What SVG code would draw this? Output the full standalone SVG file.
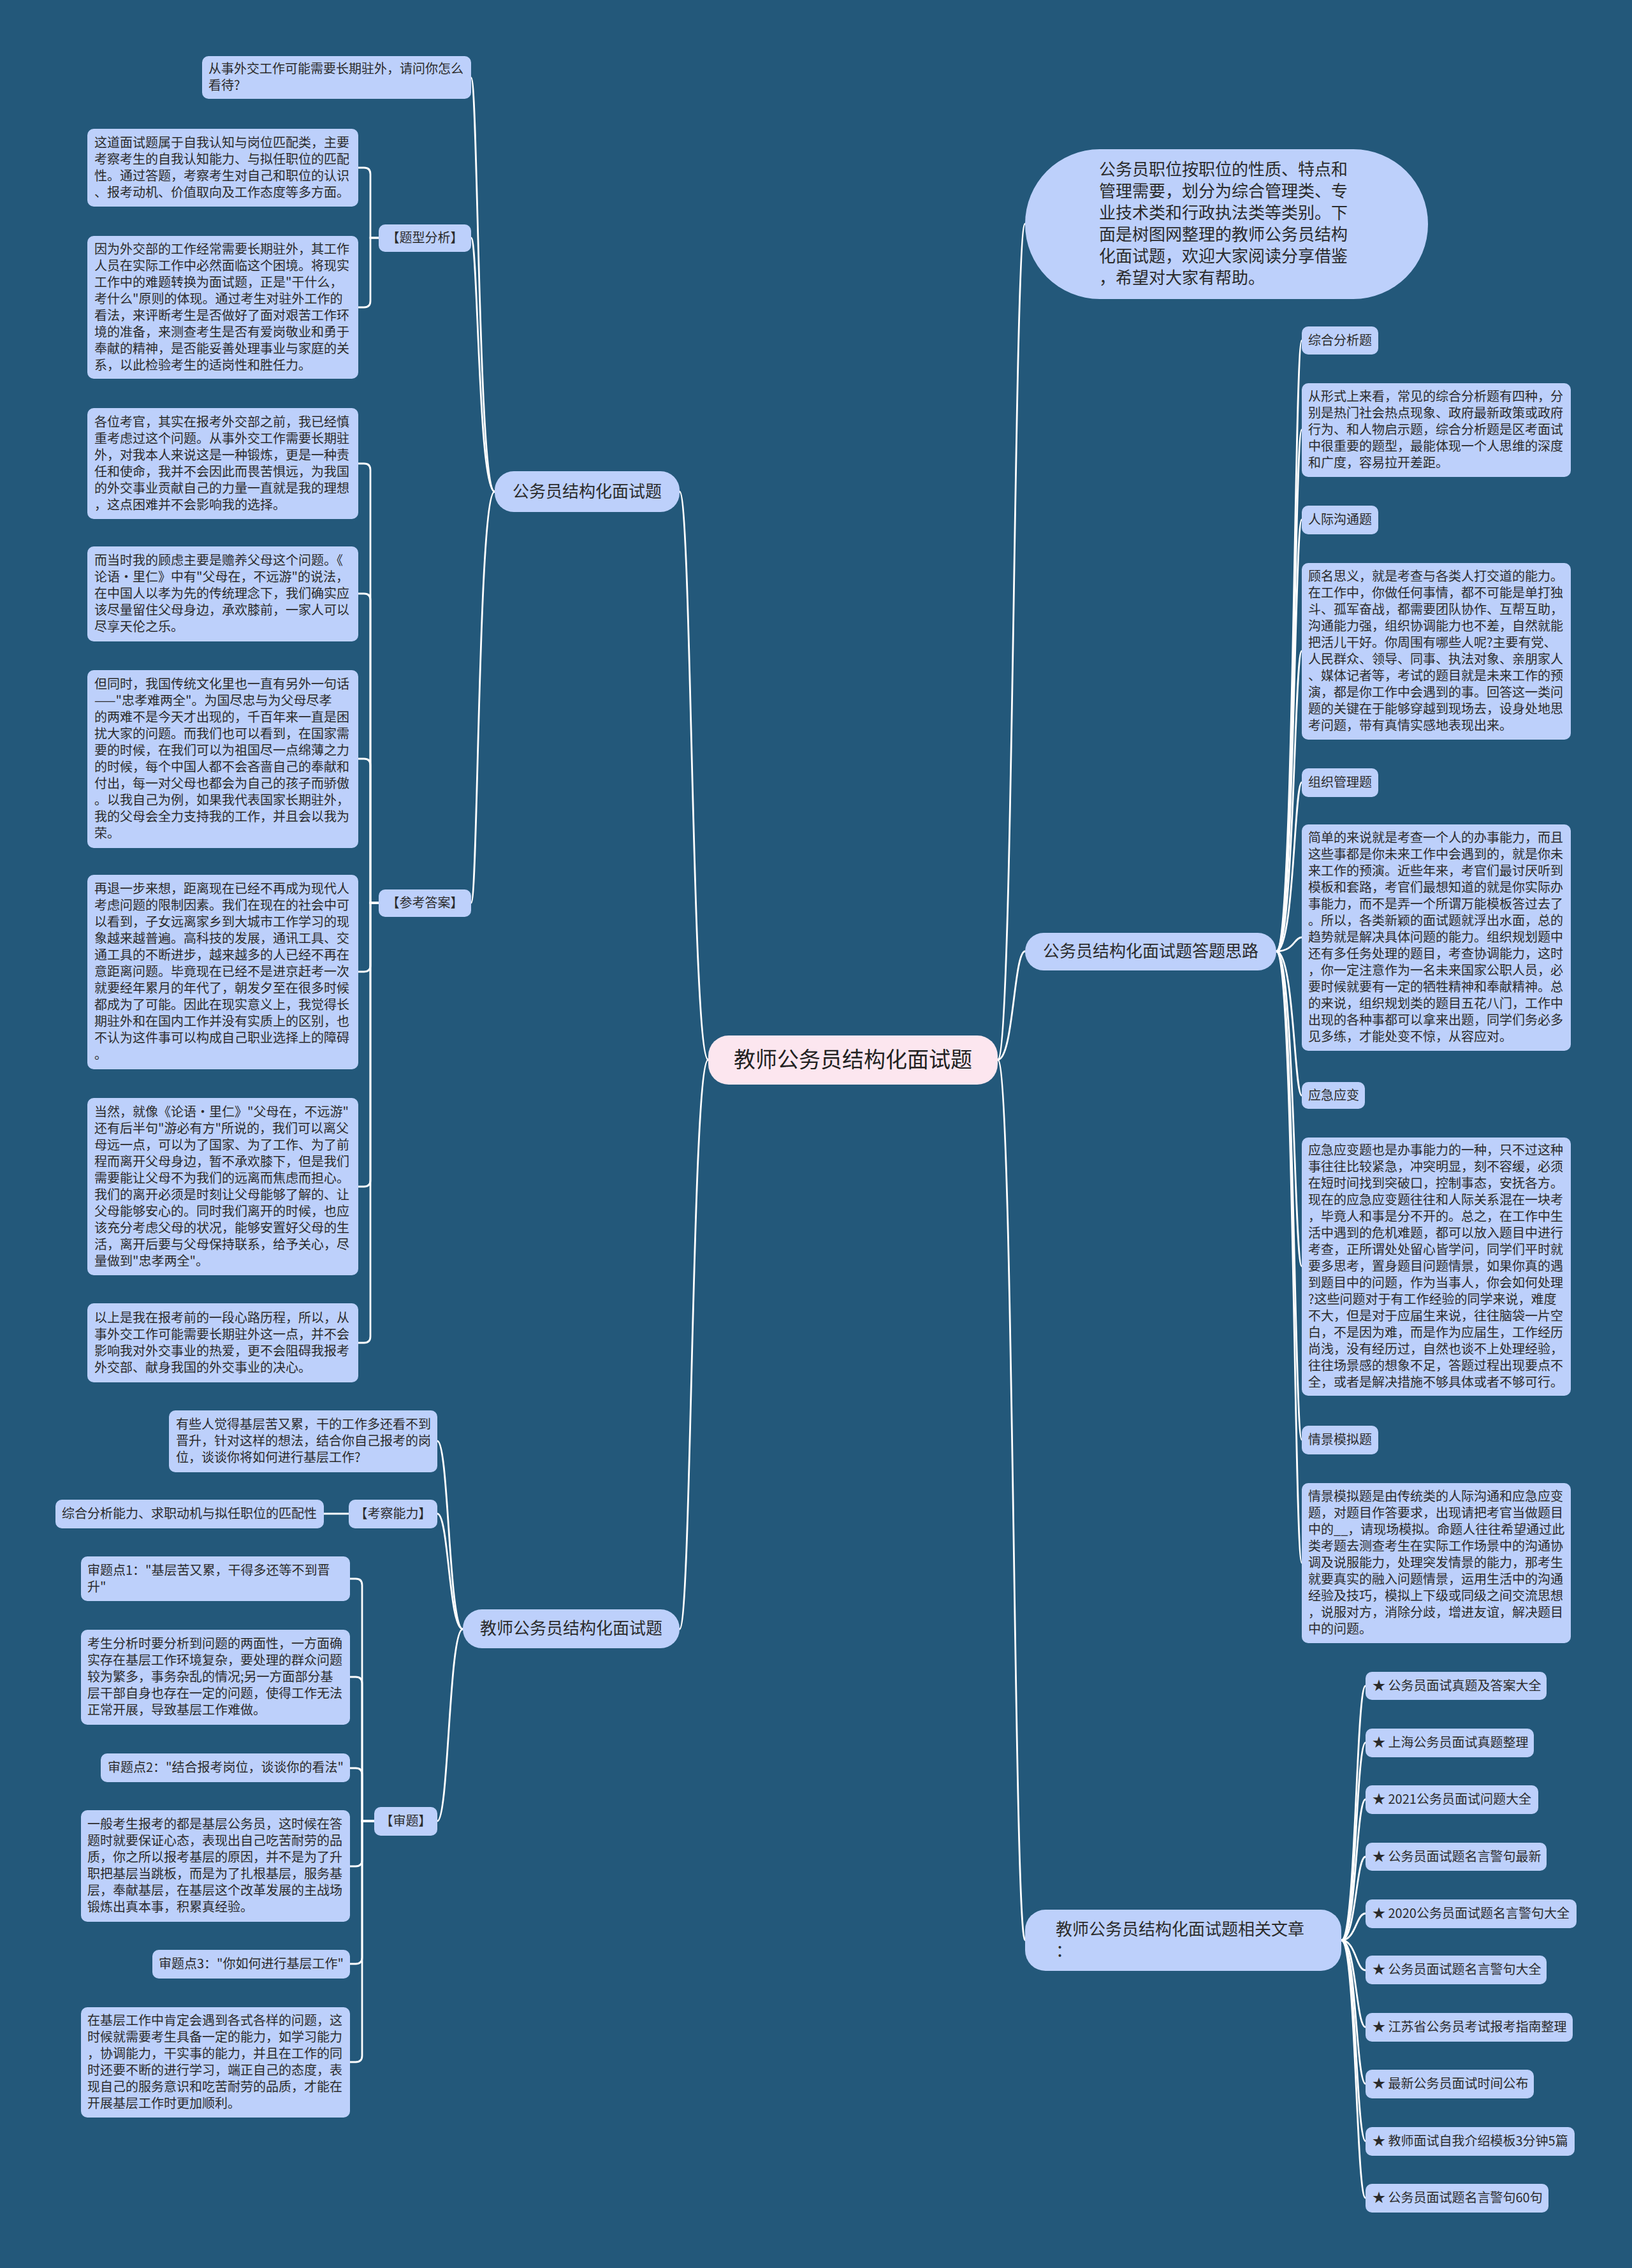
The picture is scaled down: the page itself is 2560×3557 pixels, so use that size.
<svg xmlns="http://www.w3.org/2000/svg" width="2560" height="3557" viewBox="0 0 2560 3557">
<style>
.bg{fill:#23587a}
.box{fill:#bdd0fb}
.l1{fill:#bdd0fb}
.root{fill:#fce6ef}
.t{font-family:"Noto Sans CJK SC","Liberation Sans",sans-serif;font-size:20px;fill:#2b2b2b}
.t1{font-family:"Noto Sans CJK SC","Liberation Sans",sans-serif;font-size:26px;fill:#2b2b2b}
.t0{font-family:"Noto Sans CJK SC","Liberation Sans",sans-serif;font-size:34px;fill:#222}
.c{fill:none;stroke:#ffffff;stroke-width:2.8;stroke-linecap:round}
</style>
<rect class="bg" x="0" y="0" width="2560" height="3557"/>

<g id="connectors">
<path class="c" d="M 1111 1662 C 1085 1662, 1085 771, 1066 771"/>
<path class="c" d="M 1111 1662 C 1085 1662, 1085 2555, 1066 2555"/>
<path class="c" d="M 1565 1662 C 1590 1662, 1590 351, 1608 351"/>
<path class="c" d="M 1565 1662 C 1590 1662, 1590 1492, 1608 1492"/>
<path class="c" d="M 1565 1662 C 1590 1662, 1590 3043, 1608 3043"/>

<path class="c" d="M 776 771 C 750 771, 750 122, 739 122"/>
<path class="c" d="M 776 771 C 750 771, 750 373, 739 373"/>
<path class="c" d="M 776 771 C 750 771, 750 1416, 739 1416"/>

<path class="c" d="M 594 373 H 581 V 273 Q 581 263 571 263 H 562"/>
<path class="c" d="M 594 373 H 581 V 472 Q 581 482 571 482 H 562"/>

<path class="c" d="M 594 1416 H 581 V 737 Q 581 727 571 727 H 562"/>
<path class="c" d="M 594 1416 H 581 V 941 Q 581 931 571 931 H 562"/>
<path class="c" d="M 594 1416 H 581 V 1200 Q 581 1190 571 1190 H 562"/>
<path class="c" d="M 594 1416 H 581 V 1514 Q 581 1524 571 1524 H 562"/>
<path class="c" d="M 594 1416 H 581 V 1851 Q 581 1861 571 1861 H 562"/>
<path class="c" d="M 594 1416 H 581 V 2096 Q 581 2106 571 2106 H 562"/>

<path class="c" d="M 726 2555 C 704 2555, 704 2260, 686 2260"/>
<path class="c" d="M 726 2555 C 704 2555, 704 2374, 686 2374"/>
<path class="c" d="M 726 2555 C 704 2555, 704 2856, 686 2856"/>

<path class="c" d="M 547 2374 H 508"/>

<path class="c" d="M 587 2856 H 568 V 2486 Q 568 2476 558 2476 H 549"/>
<path class="c" d="M 587 2856 H 568 V 2640 Q 568 2630 558 2630 H 549"/>
<path class="c" d="M 587 2856 H 568 V 2783 Q 568 2773 558 2773 H 549"/>
<path class="c" d="M 587 2856 H 568 V 2917 Q 568 2927 558 2927 H 549"/>
<path class="c" d="M 587 2856 H 568 V 3070 Q 568 3080 558 3080 H 549"/>
<path class="c" d="M 587 2856 H 568 V 3224 Q 568 3234 558 3234 H 549"/>

<path class="c" d="M 2002 1492 C 2030 1492, 2030 534, 2042 534"/>
<path class="c" d="M 2002 1492 C 2030 1492, 2030 674, 2042 674"/>
<path class="c" d="M 2002 1492 C 2030 1492, 2030 815, 2042 815"/>
<path class="c" d="M 2002 1492 C 2030 1492, 2030 1021, 2042 1021"/>
<path class="c" d="M 2002 1492 C 2030 1492, 2030 1227, 2042 1227"/>
<path class="c" d="M 2002 1492 C 2030 1492, 2030 1470, 2042 1470"/>
<path class="c" d="M 2002 1492 C 2030 1492, 2030 1718, 2042 1718"/>
<path class="c" d="M 2002 1492 C 2030 1492, 2030 1986, 2042 1986"/>
<path class="c" d="M 2002 1492 C 2030 1492, 2030 2258, 2042 2258"/>
<path class="c" d="M 2002 1492 C 2030 1492, 2030 2451, 2042 2451"/>

<path class="c" d="M 2104 3043 C 2127 3043, 2127 2644, 2142 2644"/>
<path class="c" d="M 2104 3043 C 2127 3043, 2127 2733, 2142 2733"/>
<path class="c" d="M 2104 3043 C 2127 3043, 2127 2822, 2142 2822"/>
<path class="c" d="M 2104 3043 C 2127 3043, 2127 2912, 2142 2912"/>
<path class="c" d="M 2104 3043 C 2127 3043, 2127 3001, 2142 3001"/>
<path class="c" d="M 2104 3043 C 2127 3043, 2127 3090, 2142 3090"/>
<path class="c" d="M 2104 3043 C 2127 3043, 2127 3179, 2142 3179"/>
<path class="c" d="M 2104 3043 C 2127 3043, 2127 3268, 2142 3268"/>
<path class="c" d="M 2104 3043 C 2127 3043, 2127 3358, 2142 3358"/>
<path class="c" d="M 2104 3043 C 2127 3043, 2127 3447, 2142 3447"/>
</g>

<g id="root">
<rect class="root" x="1111" y="1624" width="454" height="77" rx="32"/>
<text class="t0" x="1338" y="1674" text-anchor="middle">教师公务员结构化面试题</text>
</g>

<g id="intro">
<rect class="l1" x="1608" y="234" width="632" height="235" rx="117"/>
<text class="t1" x="1724" y="275">
<tspan x="1724" dy="0">公务员职位按职位的性质、特点和</tspan>
<tspan x="1724" dy="34">管理需要，划分为综合管理类、专</tspan>
<tspan x="1724" dy="34">业技术类和行政执法类等类别。下</tspan>
<tspan x="1724" dy="34">面是树图网整理的教师公务员结构</tspan>
<tspan x="1724" dy="34">化面试题，欢迎大家阅读分享借鉴</tspan>
<tspan x="1724" dy="34">，希望对大家有帮助。</tspan>
</text>
</g>

<g id="n-gwy">
<rect class="l1" x="776" y="739" width="290" height="64" rx="30"/>
<text class="t1" x="921" y="780" text-anchor="middle">公务员结构化面试题</text>
</g>

<g id="n-js">
<rect class="l1" x="726" y="2524" width="340" height="61" rx="30"/>
<text class="t1" x="896" y="2563" text-anchor="middle">教师公务员结构化面试题</text>
</g>

<g id="n-dtsl">
<rect class="l1" x="1608" y="1463" width="394" height="59" rx="29"/>
<text class="t1" x="1805" y="1501" text-anchor="middle">公务员结构化面试题答题思路</text>
</g>

<g id="n-xgwz">
<rect class="l1" x="1608" y="2995" width="496" height="96" rx="32"/>
<text class="t1" x="1656" y="3035">
<tspan x="1656" dy="0">教师公务员结构化面试题相关文章</tspan>
<tspan x="1656" dy="34">：</tspan>
</text>
</g>

<g id="q1">
<rect class="box" x="317" y="88" width="422" height="67" rx="10"/>
<text class="t" x="327" y="115">
<tspan x="327" dy="0">从事外交工作可能需要长期驻外，请问你怎么</tspan>
<tspan x="327" dy="26">看待?</tspan>
</text>
</g>

<g id="txfx">
<rect class="box" x="594" y="352" width="145" height="43" rx="10"/>
<text class="t" x="666.5" y="380" text-anchor="middle">【题型分析】</text>
</g>

<g id="txfx-1">
<rect class="box" x="137" y="202" width="425" height="122" rx="10"/>
<text class="t" x="148" y="231">
<tspan x="148" dy="0">这道面试题属于自我认知与岗位匹配类，主要</tspan>
<tspan x="148" dy="26">考察考生的自我认知能力、与拟任职位的匹配</tspan>
<tspan x="148" dy="26">性。通过答题，考察考生对自己和职位的认识</tspan>
<tspan x="148" dy="26">、报考动机、价值取向及工作态度等多方面。</tspan>
</text>
</g>

<g id="txfx-2">
<rect class="box" x="137" y="370" width="425" height="224" rx="10"/>
<text class="t" x="148" y="398">
<tspan x="148" dy="0">因为外交部的工作经常需要长期驻外，其工作</tspan>
<tspan x="148" dy="26">人员在实际工作中必然面临这个困境。将现实</tspan>
<tspan x="148" dy="26">工作中的难题转换为面试题，正是"干什么，</tspan>
<tspan x="148" dy="26">考什么"原则的体现。通过考生对驻外工作的</tspan>
<tspan x="148" dy="26">看法，来评断考生是否做好了面对艰苦工作环</tspan>
<tspan x="148" dy="26">境的准备，来测查考生是否有爱岗敬业和勇于</tspan>
<tspan x="148" dy="26">奉献的精神，是否能妥善处理事业与家庭的关</tspan>
<tspan x="148" dy="26">系，以此检验考生的适岗性和胜任力。</tspan>
</text>
</g>

<g id="ckda">
<rect class="box" x="594" y="1395" width="145" height="43" rx="10"/>
<text class="t" x="666.5" y="1423" text-anchor="middle">【参考答案】</text>
</g>

<g id="ckda-1">
<rect class="box" x="137" y="640" width="425" height="174" rx="10"/>
<text class="t" x="148" y="669">
<tspan x="148" dy="0">各位考官，其实在报考外交部之前，我已经慎</tspan>
<tspan x="148" dy="26">重考虑过这个问题。从事外交工作需要长期驻</tspan>
<tspan x="148" dy="26">外，对我本人来说这是一种锻炼，更是一种责</tspan>
<tspan x="148" dy="26">任和使命，我并不会因此而畏苦惧远，为我国</tspan>
<tspan x="148" dy="26">的外交事业贡献自己的力量一直就是我的理想</tspan>
<tspan x="148" dy="26">，这点困难并不会影响我的选择。</tspan>
</text>
</g>

<g id="ckda-2">
<rect class="box" x="137" y="857" width="425" height="149" rx="10"/>
<text class="t" x="148" y="886">
<tspan x="148" dy="0">而当时我的顾虑主要是赡养父母这个问题。《</tspan>
<tspan x="148" dy="26">论语·里仁》中有"父母在，不远游"的说法，</tspan>
<tspan x="148" dy="26">在中国人以孝为先的传统理念下，我们确实应</tspan>
<tspan x="148" dy="26">该尽量留住父母身边，承欢膝前，一家人可以</tspan>
<tspan x="148" dy="26">尽享天伦之乐。</tspan>
</text>
</g>

<g id="ckda-3">
<rect class="box" x="137" y="1051" width="425" height="279" rx="10"/>
<text class="t" x="148" y="1080">
<tspan x="148" dy="0">但同时，我国传统文化里也一直有另外一句话</tspan>
<tspan x="148" dy="26">——"忠孝难两全"。为国尽忠与为父母尽孝</tspan>
<tspan x="148" dy="26">的两难不是今天才出现的，千百年来一直是困</tspan>
<tspan x="148" dy="26">扰大家的问题。而我们也可以看到，在国家需</tspan>
<tspan x="148" dy="26">要的时候，在我们可以为祖国尽一点绵薄之力</tspan>
<tspan x="148" dy="26">的时候，每个中国人都不会吝啬自己的奉献和</tspan>
<tspan x="148" dy="26">付出，每一对父母也都会为自己的孩子而骄傲</tspan>
<tspan x="148" dy="26">。以我自己为例，如果我代表国家长期驻外，</tspan>
<tspan x="148" dy="26">我的父母会全力支持我的工作，并且会以我为</tspan>
<tspan x="148" dy="26">荣。</tspan>
</text>
</g>

<g id="ckda-4">
<rect class="box" x="137" y="1372" width="425" height="305" rx="10"/>
<text class="t" x="148" y="1401">
<tspan x="148" dy="0">再退一步来想，距离现在已经不再成为现代人</tspan>
<tspan x="148" dy="26">考虑问题的限制因素。我们在现在的社会中可</tspan>
<tspan x="148" dy="26">以看到，子女远离家乡到大城市工作学习的现</tspan>
<tspan x="148" dy="26">象越来越普遍。高科技的发展，通讯工具、交</tspan>
<tspan x="148" dy="26">通工具的不断进步，越来越多的人已经不再在</tspan>
<tspan x="148" dy="26">意距离问题。毕竟现在已经不是进京赶考一次</tspan>
<tspan x="148" dy="26">就要经年累月的年代了，朝发夕至在很多时候</tspan>
<tspan x="148" dy="26">都成为了可能。因此在现实意义上，我觉得长</tspan>
<tspan x="148" dy="26">期驻外和在国内工作并没有实质上的区别，也</tspan>
<tspan x="148" dy="26">不认为这件事可以构成自己职业选择上的障碍</tspan>
<tspan x="148" dy="26">。</tspan>
</text>
</g>

<g id="ckda-5">
<rect class="box" x="137" y="1722" width="425" height="278" rx="10"/>
<text class="t" x="148" y="1751">
<tspan x="148" dy="0">当然，就像《论语·里仁》"父母在，不远游"</tspan>
<tspan x="148" dy="26">还有后半句"游必有方"所说的，我们可以离父</tspan>
<tspan x="148" dy="26">母远一点，可以为了国家、为了工作、为了前</tspan>
<tspan x="148" dy="26">程而离开父母身边，暂不承欢膝下，但是我们</tspan>
<tspan x="148" dy="26">需要能让父母不为我们的远离而焦虑而担心。</tspan>
<tspan x="148" dy="26">我们的离开必须是时刻让父母能够了解的、让</tspan>
<tspan x="148" dy="26">父母能够安心的。同时我们离开的时候，也应</tspan>
<tspan x="148" dy="26">该充分考虑父母的状况，能够安置好父母的生</tspan>
<tspan x="148" dy="26">活，离开后要与父母保持联系，给予关心，尽</tspan>
<tspan x="148" dy="26">量做到"忠孝两全"。</tspan>
</text>
</g>

<g id="ckda-6">
<rect class="box" x="137" y="2044" width="425" height="124" rx="10"/>
<text class="t" x="148" y="2074">
<tspan x="148" dy="0">以上是我在报考前的一段心路历程，所以，从</tspan>
<tspan x="148" dy="26">事外交工作可能需要长期驻外这一点，并不会</tspan>
<tspan x="148" dy="26">影响我对外交事业的热爱，更不会阻碍我报考</tspan>
<tspan x="148" dy="26">外交部、献身我国的外交事业的决心。</tspan>
</text>
</g>

<g id="q2">
<rect class="box" x="265" y="2212" width="421" height="97" rx="10"/>
<text class="t" x="276" y="2241">
<tspan x="276" dy="0">有些人觉得基层苦又累，干的工作多还看不到</tspan>
<tspan x="276" dy="26">晋升，针对这样的想法，结合你自己报考的岗</tspan>
<tspan x="276" dy="26">位，谈谈你将如何进行基层工作?</tspan>
</text>
</g>

<g id="kcnl">
<rect class="box" x="547" y="2352" width="139" height="45" rx="10"/>
<text class="t" x="616.5" y="2381" text-anchor="middle">【考察能力】</text>
</g>

<g id="kcnl-1">
<rect class="box" x="87" y="2352" width="421" height="45" rx="10"/>
<text class="t" x="97" y="2381">综合分析能力、求职动机与拟任职位的匹配性</text>
</g>

<g id="st">
<rect class="box" x="587" y="2834" width="99" height="45" rx="10"/>
<text class="t" x="636.5" y="2863" text-anchor="middle">【审题】</text>
</g>

<g id="st-1">
<rect class="box" x="127" y="2441" width="422" height="70" rx="10"/>
<text class="t" x="137" y="2470">
<tspan x="137" dy="0">审题点1："基层苦又累，干得多还等不到晋</tspan>
<tspan x="137" dy="26">升"</tspan>
</text>
</g>

<g id="st-2">
<rect class="box" x="127" y="2556" width="422" height="149" rx="10"/>
<text class="t" x="137" y="2585">
<tspan x="137" dy="0">考生分析时要分析到问题的两面性，一方面确</tspan>
<tspan x="137" dy="26">实存在基层工作环境复杂，要处理的群众问题</tspan>
<tspan x="137" dy="26">较为繁多，事务杂乱的情况;另一方面部分基</tspan>
<tspan x="137" dy="26">层干部自身也存在一定的问题，使得工作无法</tspan>
<tspan x="137" dy="26">正常开展，导致基层工作难做。</tspan>
</text>
</g>

<g id="st-3">
<rect class="box" x="158" y="2750" width="391" height="45" rx="10"/>
<text class="t" x="169" y="2779">审题点2："结合报考岗位，谈谈你的看法"</text>
</g>

<g id="st-4">
<rect class="box" x="127" y="2839" width="422" height="175" rx="10"/>
<text class="t" x="137" y="2868">
<tspan x="137" dy="0">一般考生报考的都是基层公务员，这时候在答</tspan>
<tspan x="137" dy="26">题时就要保证心态，表现出自己吃苦耐劳的品</tspan>
<tspan x="137" dy="26">质，你之所以报考基层的原因，并不是为了升</tspan>
<tspan x="137" dy="26">职把基层当跳板，而是为了扎根基层，服务基</tspan>
<tspan x="137" dy="26">层，奉献基层，在基层这个改革发展的主战场</tspan>
<tspan x="137" dy="26">锻炼出真本事，积累真经验。</tspan>
</text>
</g>

<g id="st-5">
<rect class="box" x="239" y="3058" width="310" height="45" rx="10"/>
<text class="t" x="249" y="3087">审题点3："你如何进行基层工作"</text>
</g>

<g id="st-6">
<rect class="box" x="127" y="3148" width="422" height="173" rx="10"/>
<text class="t" x="137" y="3176">
<tspan x="137" dy="0">在基层工作中肯定会遇到各式各样的问题，这</tspan>
<tspan x="137" dy="26">时候就需要考生具备一定的能力，如学习能力</tspan>
<tspan x="137" dy="26">，协调能力，干实事的能力，并且在工作的同</tspan>
<tspan x="137" dy="26">时还要不断的进行学习，端正自己的态度，表</tspan>
<tspan x="137" dy="26">现自己的服务意识和吃苦耐劳的品质，才能在</tspan>
<tspan x="137" dy="26">开展基层工作时更加顺利。</tspan>
</text>
</g>

<g id="zhfx">
<rect class="box" x="2042" y="512" width="120" height="44" rx="10"/>
<text class="t" x="2052" y="541">综合分析题</text>
</g>
<g id="zhfx-1">
<rect class="box" x="2042" y="601" width="422" height="147" rx="10"/>
<text class="t" x="2052" y="629">
<tspan x="2052" dy="0">从形式上来看，常见的综合分析题有四种，分</tspan>
<tspan x="2052" dy="26">别是热门社会热点现象、政府最新政策或政府</tspan>
<tspan x="2052" dy="26">行为、和人物启示题，综合分析题是区考面试</tspan>
<tspan x="2052" dy="26">中很重要的题型，最能体现一个人思维的深度</tspan>
<tspan x="2052" dy="26">和广度，容易拉开差距。</tspan>
</text>
</g>

<g id="rjgt">
<rect class="box" x="2042" y="793" width="120" height="45" rx="10"/>
<text class="t" x="2052" y="822">人际沟通题</text>
</g>
<g id="rjgt-1">
<rect class="box" x="2042" y="883" width="422" height="277" rx="10"/>
<text class="t" x="2052" y="911">
<tspan x="2052" dy="0">顾名思义，就是考查与各类人打交道的能力。</tspan>
<tspan x="2052" dy="26">在工作中，你做任何事情，都不可能是单打独</tspan>
<tspan x="2052" dy="26">斗、孤军奋战，都需要团队协作、互帮互助，</tspan>
<tspan x="2052" dy="26">沟通能力强，组织协调能力也不差，自然就能</tspan>
<tspan x="2052" dy="26">把活儿干好。你周围有哪些人呢?主要有党、</tspan>
<tspan x="2052" dy="26">人民群众、领导、同事、执法对象、亲朋家人</tspan>
<tspan x="2052" dy="26">、媒体记者等，考试的题目就是未来工作的预</tspan>
<tspan x="2052" dy="26">演，都是你工作中会遇到的事。回答这一类问</tspan>
<tspan x="2052" dy="26">题的关键在于能够穿越到现场去，设身处地思</tspan>
<tspan x="2052" dy="26">考问题，带有真情实感地表现出来。</tspan>
</text>
</g>

<g id="zzgl">
<rect class="box" x="2042" y="1205" width="120" height="45" rx="10"/>
<text class="t" x="2052" y="1234">组织管理题</text>
</g>
<g id="zzgl-1">
<rect class="box" x="2042" y="1293" width="422" height="355" rx="10"/>
<text class="t" x="2052" y="1321">
<tspan x="2052" dy="0">简单的来说就是考查一个人的办事能力，而且</tspan>
<tspan x="2052" dy="26">这些事都是你未来工作中会遇到的，就是你未</tspan>
<tspan x="2052" dy="26">来工作的预演。近些年来，考官们最讨厌听到</tspan>
<tspan x="2052" dy="26">模板和套路，考官们最想知道的就是你实际办</tspan>
<tspan x="2052" dy="26">事能力，而不是弄一个所谓万能模板答过去了</tspan>
<tspan x="2052" dy="26">。所以，各类新颖的面试题就浮出水面，总的</tspan>
<tspan x="2052" dy="26">趋势就是解决具体问题的能力。组织规划题中</tspan>
<tspan x="2052" dy="26">还有多任务处理的题目，考查协调能力，这时</tspan>
<tspan x="2052" dy="26">，你一定注意作为一名未来国家公职人员，必</tspan>
<tspan x="2052" dy="26">要时候就要有一定的牺牲精神和奉献精神。总</tspan>
<tspan x="2052" dy="26">的来说，组织规划类的题目五花八门，工作中</tspan>
<tspan x="2052" dy="26">出现的各种事都可以拿来出题，同学们务必多</tspan>
<tspan x="2052" dy="26">见多练，才能处变不惊，从容应对。</tspan>
</text>
</g>

<g id="yjyb">
<rect class="box" x="2042" y="1697" width="99" height="42" rx="10"/>
<text class="t" x="2052" y="1725">应急应变</text>
</g>
<g id="yjyb-1">
<rect class="box" x="2042" y="1784" width="422" height="405" rx="10"/>
<text class="t" x="2052" y="1811">
<tspan x="2052" dy="0">应急应变题也是办事能力的一种，只不过这种</tspan>
<tspan x="2052" dy="26">事往往比较紧急，冲突明显，刻不容缓，必须</tspan>
<tspan x="2052" dy="26">在短时间找到突破口，控制事态，安抚各方。</tspan>
<tspan x="2052" dy="26">现在的应急应变题往往和人际关系混在一块考</tspan>
<tspan x="2052" dy="26">，毕竟人和事是分不开的。总之，在工作中生</tspan>
<tspan x="2052" dy="26">活中遇到的危机难题，都可以放入题目中进行</tspan>
<tspan x="2052" dy="26">考查，正所谓处处留心皆学问，同学们平时就</tspan>
<tspan x="2052" dy="26">要多思考，置身题目问题情景，如果你真的遇</tspan>
<tspan x="2052" dy="26">到题目中的问题，作为当事人，你会如何处理</tspan>
<tspan x="2052" dy="26">?这些问题对于有工作经验的同学来说，难度</tspan>
<tspan x="2052" dy="26">不大，但是对于应届生来说，往往脑袋一片空</tspan>
<tspan x="2052" dy="26">白，不是因为难，而是作为应届生，工作经历</tspan>
<tspan x="2052" dy="26">尚浅，没有经历过，自然也谈不上处理经验，</tspan>
<tspan x="2052" dy="26">往往场景感的想象不足，答题过程出现要点不</tspan>
<tspan x="2052" dy="26">全，或者是解决措施不够具体或者不够可行。</tspan>
</text>
</g>

<g id="qjmn">
<rect class="box" x="2042" y="2236" width="120" height="45" rx="10"/>
<text class="t" x="2052" y="2265">情景模拟题</text>
</g>
<g id="qjmn-1">
<rect class="box" x="2042" y="2326" width="422" height="251" rx="10"/>
<text class="t" x="2052" y="2354">
<tspan x="2052" dy="0">情景模拟题是由传统类的人际沟通和应急应变</tspan>
<tspan x="2052" dy="26">题，对题目作答要求，出现请把考官当做题目</tspan>
<tspan x="2052" dy="26">中的__，请现场模拟。命题人往往希望通过此</tspan>
<tspan x="2052" dy="26">类考题去测查考生在实际工作场景中的沟通协</tspan>
<tspan x="2052" dy="26">调及说服能力，处理突发情景的能力，那考生</tspan>
<tspan x="2052" dy="26">就要真实的融入问题情景，运用生活中的沟通</tspan>
<tspan x="2052" dy="26">经验及技巧，模拟上下级或同级之间交流思想</tspan>
<tspan x="2052" dy="26">，说服对方，消除分歧，增进友谊，解决题目</tspan>
<tspan x="2052" dy="26">中的问题。</tspan>
</text>
</g>

<g id="a1"><rect class="box" x="2142" y="2622" width="284" height="44" rx="10"/><text class="t" x="2153" y="2651">★ 公务员面试真题及答案大全</text></g>
<g id="a2"><rect class="box" x="2142" y="2711" width="264" height="45" rx="10"/><text class="t" x="2153" y="2740">★ 上海公务员面试真题整理</text></g>
<g id="a3"><rect class="box" x="2142" y="2800" width="271" height="45" rx="10"/><text class="t" x="2153" y="2829">★ 2021公务员面试问题大全</text></g>
<g id="a4"><rect class="box" x="2142" y="2890" width="284" height="44" rx="10"/><text class="t" x="2153" y="2919">★ 公务员面试题名言警句最新</text></g>
<g id="a5"><rect class="box" x="2142" y="2979" width="331" height="45" rx="10"/><text class="t" x="2153" y="3008">★ 2020公务员面试题名言警句大全</text></g>
<g id="a6"><rect class="box" x="2142" y="3067" width="284" height="45" rx="10"/><text class="t" x="2153" y="3096">★ 公务员面试题名言警句大全</text></g>
<g id="a7"><rect class="box" x="2142" y="3157" width="325" height="45" rx="10"/><text class="t" x="2153" y="3186">★ 江苏省公务员考试报考指南整理</text></g>
<g id="a8"><rect class="box" x="2142" y="3246" width="264" height="45" rx="10"/><text class="t" x="2153" y="3275">★ 最新公务员面试时间公布</text></g>
<g id="a9"><rect class="box" x="2142" y="3336" width="328" height="45" rx="10"/><text class="t" x="2153" y="3365">★ 教师面试自我介绍模板3分钟5篇</text></g>
<g id="a10"><rect class="box" x="2142" y="3425" width="287" height="45" rx="10"/><text class="t" x="2153" y="3454">★ 公务员面试题名言警句60句</text></g>
</svg>
